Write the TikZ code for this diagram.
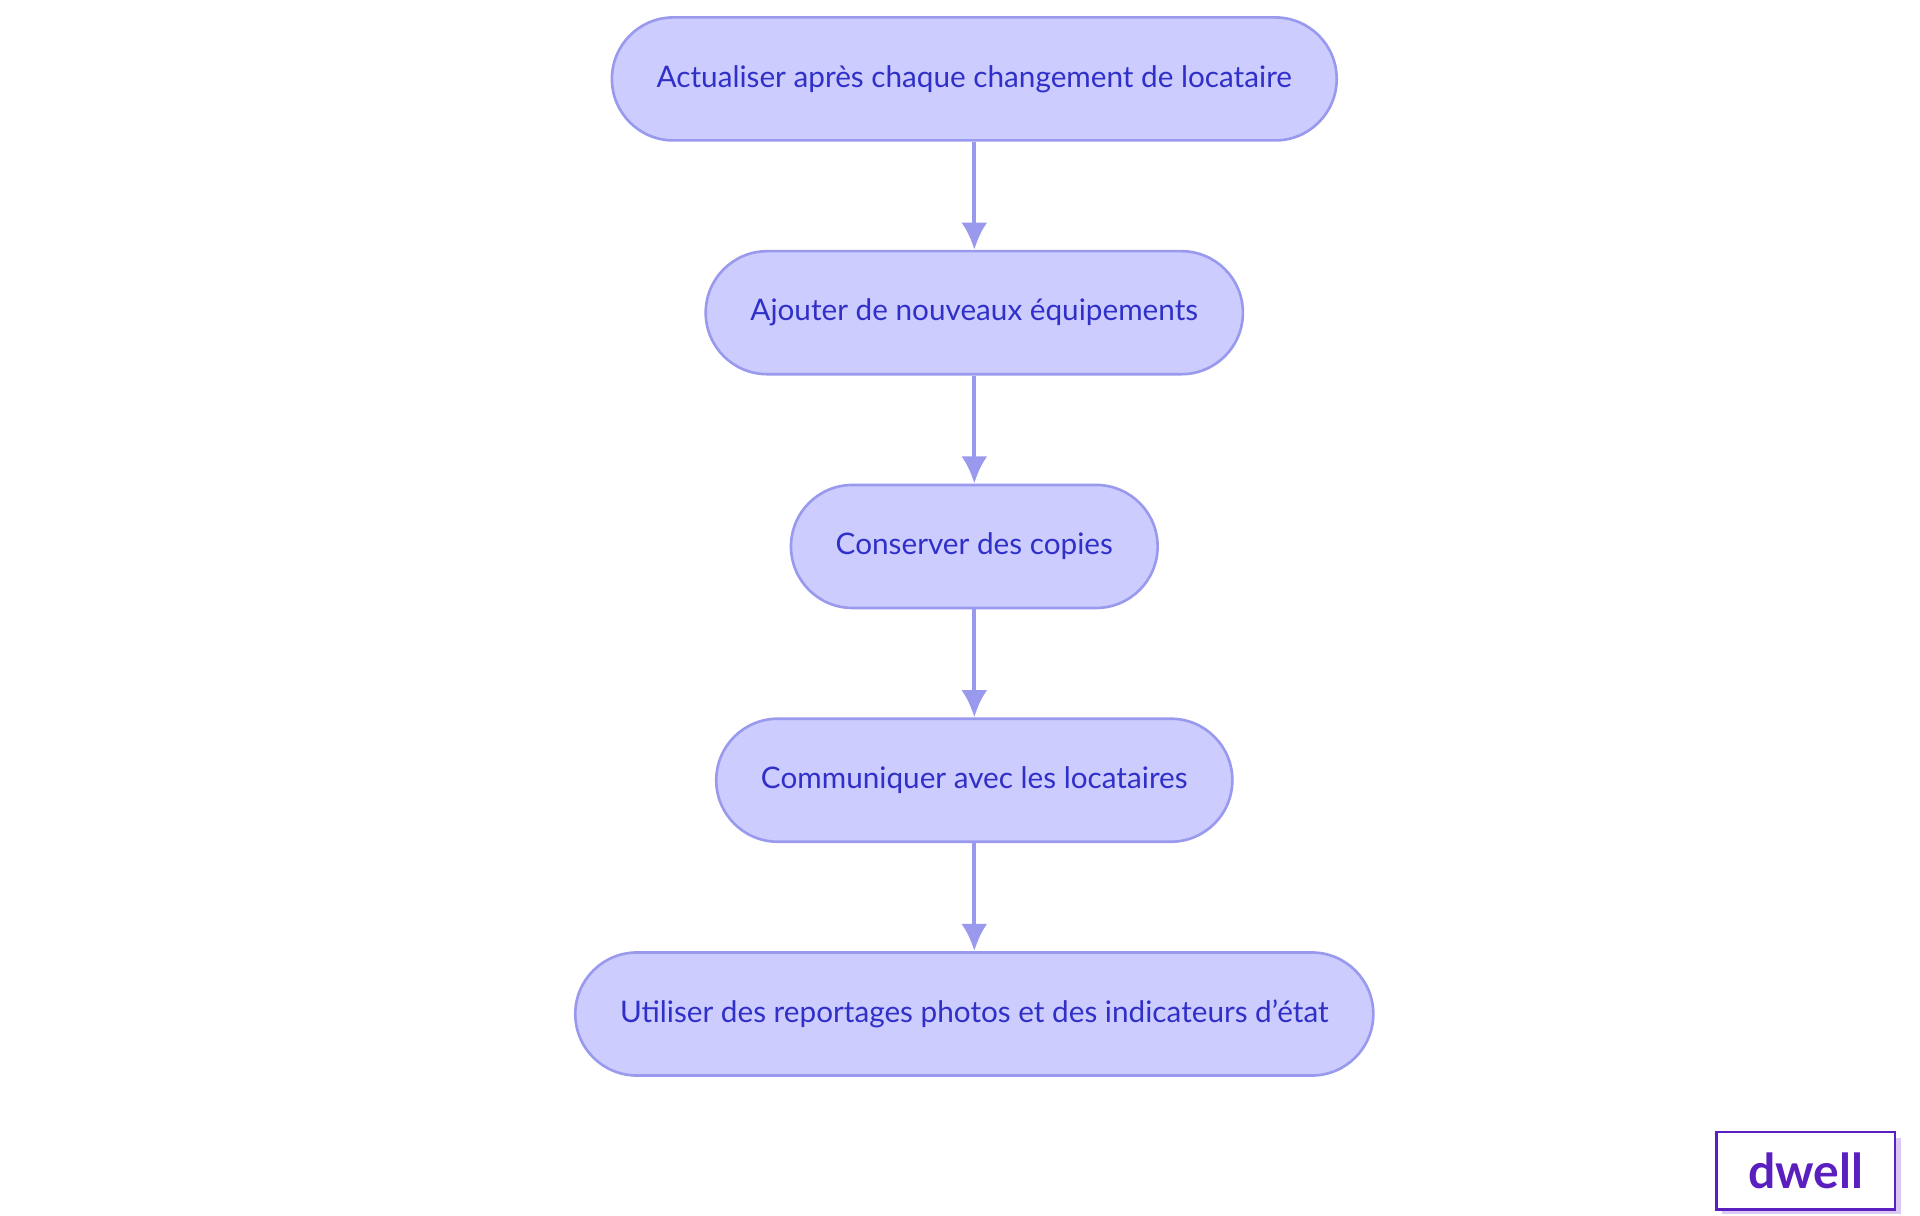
\documentclass[tikz,border=0pt]{standalone}
\usepackage{fontspec}
\setmainfont{Lato}
\usetikzlibrary{positioning,arrows.meta}
\definecolor{StepFill}{HTML}{CCCCFF}
\definecolor{StepLine}{HTML}{9999EE}
\definecolor{StepText}{HTML}{3030C8}
\definecolor{LogoInk}{HTML}{5B1FC0}
\definecolor{LogoShade}{HTML}{DCC8F5}
\tikzset{
    task/.style = {draw=StepLine, fill=StepFill, text=StepText, line width=0.6pt,
        rounded corners=0.495cm, minimum height=0.99cm, inner xsep=0.36cm,
        font=\fontsize{6.8}{8}\selectfont},
    link/.style = {draw=StepLine, line width=1pt, -{Latex[length=0.22cm,width=0.21cm]}}
}
\begin{document}
\begin{tikzpicture}[node distance=0.87cm]
    \useasboundingbox (0,0) rectangle (15.45,-9.78);
    \node[task] (actualiser) at (7.84,-0.635) {Actualiser après chaque changement de locataire};
    \node[task,below=of actualiser] (ajouter) {Ajouter de nouveaux équipements};
    \node[task,below=of ajouter] (conserver) {Conserver des copies};
    \node[task,below=of conserver] (communiquer) {Communiquer avec les locataires};
    \node[task,below=of communiquer] (utiliser) {Utiliser des reportages photos et des indicateurs d’état};
    \draw[link] (actualiser) -- (ajouter);
    \draw[link] (ajouter) -- (conserver);
    \draw[link] (conserver) -- (communiquer);
    \draw[link] (communiquer) -- (utiliser);
    % logo
    \fill[LogoShade] (13.86,-9.16) rectangle (15.30,-9.77);
    \node[draw=LogoInk, fill=white, line width=0.6pt, minimum width=1.44cm, minimum height=0.62cm,
        text=LogoInk, font=\fontsize{11}{13}\selectfont\bfseries] (logo) at (14.53,-9.42) {dwell};
\end{tikzpicture}
\end{document}
